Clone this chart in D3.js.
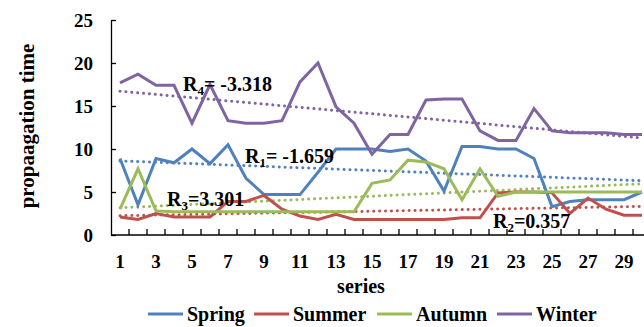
<!DOCTYPE html>
<html>
<head>
<meta charset="utf-8">
<script src="https://cdn.jsdelivr.net/npm/d3@7"></script>
<style>
  html, body { margin: 0; padding: 0; background: #fff; overflow: hidden; }
  svg { display: block; }
  text { font-family: "Liberation Serif", "Times New Roman", serif; font-weight: bold; fill: #000; }
</style>
</head>
<body>
<svg id="chart" width="644" height="327"></svg>
<script>
// Day index along the x axis
const categories = [1,2,3,4,5,6,7,8,9,10,11,12,13,14,15,16,17,18,19,20,21,22,23,24,25,26,27,28,29,30];
const xTickLabels = [1,3,5,7,9,11,13,15,17,19,21,23,25,27,29];
const yTicks = [0,5,10,15,20,25];

const seriesNames = ["Spring", "Summer", "Autumn", "Winter"];
const spring = [8.9,3.5,8.9,8.4,10.0,8.3,10.5,6.6,4.7,4.7,4.7,7.3,10.0,10.0,10.0,9.7,10.0,8.6,5.1,10.3,10.3,10.0,10.0,8.9,3.3,3.9,4.1,4.1,4.1,5.0];
const summer = [2.1,1.8,2.5,2.1,2.1,2.1,3.9,3.9,4.6,3.0,2.2,1.8,2.4,1.8,1.8,1.8,1.8,1.8,1.8,2.0,2.0,4.9,5.0,5.0,4.9,2.5,4.3,3.0,2.3,2.3];
const autumn = [3.0,7.7,2.8,2.7,2.7,2.7,2.7,2.7,2.7,2.7,2.7,2.7,2.7,2.7,6.0,6.4,8.7,8.5,7.7,4.1,7.7,4.5,5.0,5.0,5.0,5.0,5.0,5.0,5.0,5.0];
const winter = [17.7,18.7,17.4,17.4,13.0,17.5,13.3,13.0,13.0,13.3,17.8,20.0,14.9,13.0,9.4,11.7,11.7,15.7,15.8,15.8,12.1,11.0,11.0,14.7,12.1,11.9,11.9,11.9,11.7,11.7];
const seriesColors = ["#4F81BD", "#C0504D", "#9BBB59", "#8064A2"];

// Trend-line annotations (subscript index, stated value)
const rSubs = ["1", "2", "3", "4"];
const rValues = ["= -1.659", "=0.357", "=3.301", "= -3.318"];

const allSeries = [spring, summer, autumn, winter];

const svg = d3.select("#chart");
const margin = { left: 111, top: 20, bottom: 92 };
const band = 18;
const plotH = 327 - margin.top - margin.bottom; // 215

// one extra slot keeps the plot wider than the window, as the chart continues past it
const x = d3.scaleBand()
  .domain(categories.concat([categories.length + 1]))
  .range([margin.left, margin.left + band * (categories.length + 1)])
  .paddingInner(0).paddingOuter(0);
const xc = d => x(d) + x.bandwidth() / 2;
const y = d3.scaleLinear().domain([0, 25]).range([margin.top + plotH, margin.top]);

// Axes
const yAxis = d3.axisLeft(y).tickValues(yTicks).tickSizeInner(-5).tickSizeOuter(0).tickFormat(d3.format("d"));
const gy = svg.append("g").attr("transform", `translate(${margin.left},0)`).call(yAxis);
gy.select(".domain").attr("stroke", "#000").attr("stroke-width", 1.3);
gy.selectAll(".tick line").attr("stroke", "#000").attr("stroke-width", 1.3);
gy.selectAll(".tick text").attr("x", -18).attr("font-size", 19).attr("font-family", "Liberation Serif").attr("font-weight", "bold");

const xAxisY = y(0);
svg.append("line").attr("x1", margin.left).attr("x2", 700).attr("y1", xAxisY).attr("y2", xAxisY)
  .attr("stroke", "#000").attr("stroke-width", 1.3);
svg.append("g").selectAll("line").data(x.domain().slice(1)).join("line")
  .attr("x1", d => x(d)).attr("x2", d => x(d))
  .attr("y1", xAxisY).attr("y2", xAxisY - 6)
  .attr("stroke", "#000").attr("stroke-width", 1.3);
svg.append("g").selectAll("text").data(xTickLabels).join("text")
  .attr("x", d => xc(d)).attr("y", 268)
  .attr("text-anchor", "middle").attr("font-size", 19)
  .text(d => d);

// Axis titles
svg.append("text").attr("x", 361).attr("y", 293).attr("text-anchor", "middle").attr("font-size", 20).text("series");
svg.append("text").attr("transform", "translate(34,126) rotate(-90)").attr("text-anchor", "middle")
  .attr("font-size", 21).text("propaagation time");

// Least-squares trend for each series
function linFit(vals) {
  const mx = d3.mean(categories), my = d3.mean(vals);
  let sxy = 0, sxx = 0;
  vals.forEach((v, i) => { sxy += (categories[i] - mx) * (v - my); sxx += (categories[i] - mx) ** 2; });
  const b = sxy / sxx;
  return c => my + b * (c - mx);
}

const line = d3.line().x((d, i) => xc(categories[i])).y(d => y(d));
const plot = svg.append("g");

allSeries.forEach((vals, k) => {
  const f = linFit(vals);
  const c0 = categories[0], c1 = categories[categories.length - 1];
  plot.append("line")
    .attr("x1", xc(c0)).attr("y1", y(f(c0)))
    .attr("x2", xc(c1)).attr("y2", y(f(c1)))
    .attr("stroke", seriesColors[k]).attr("stroke-width", 3)
    .attr("stroke-linecap", "round").attr("stroke-dasharray", "0.1 5.8");
});
allSeries.forEach((vals, k) => {
  plot.append("path").datum(vals).attr("d", line)
    .attr("fill", "none").attr("stroke", seriesColors[k])
    .attr("stroke-width", 3).attr("stroke-linejoin", "miter");
});

// R annotations
const rPos = [[245, 163], [493, 228], [167, 206], [183, 91]];
rSubs.forEach((s, i) => {
  const t = svg.append("text").attr("x", rPos[i][0]).attr("y", rPos[i][1]).attr("font-size", 20);
  t.append("tspan").text("R");
  t.append("tspan").attr("font-size", 13).attr("dy", 4).text(s);
  t.append("tspan").attr("dy", -4).text(rValues[i]);
});

// Legend
const legendX = [148, 254, 377, 497];
const lg = svg.append("g");
seriesNames.forEach((name, k) => {
  lg.append("line").attr("x1", legendX[k]).attr("x2", legendX[k] + 35)
    .attr("y1", 314).attr("y2", 314)
    .attr("stroke", seriesColors[k]).attr("stroke-width", 3);
  lg.append("text").attr("x", legendX[k] + 39).attr("y", 321).attr("font-size", 20).text(name);
});
</script>
</body>
</html>
